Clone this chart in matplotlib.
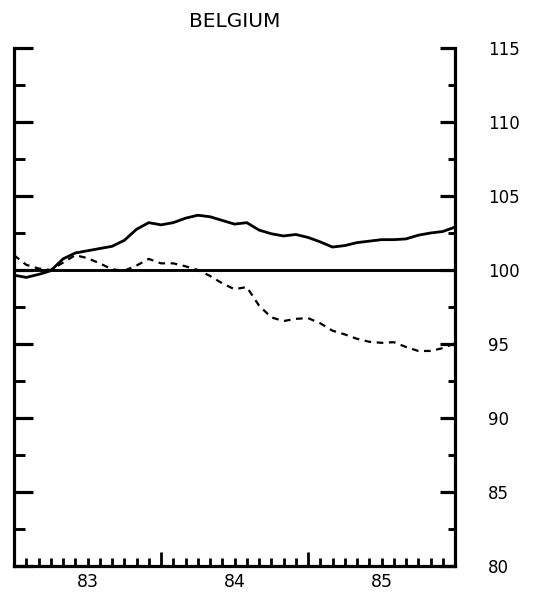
import numpy as np
import matplotlib.pyplot as plt

plt.rcParams['font.family'] = 'DejaVu Sans'

# Данные: помесячные значения, январь 1983 - январь 1986
title = "BELGIUM"
start_year = 1983
solid = [99.65, 99.5, 99.7, 99.95, 100.75, 101.15, 101.3, 101.45, 101.6, 102.0,
         102.75, 103.2, 103.05, 103.2, 103.5, 103.7, 103.6, 103.35, 103.1, 103.2,
         102.7, 102.45, 102.3, 102.4, 102.2, 101.9, 101.55, 101.65, 101.85, 101.95,
         102.05, 102.05, 102.1, 102.35, 102.5, 102.6, 102.9]
dashed = [101.0, 100.35, 100.1, 100.0, 100.5, 101.0, 100.8, 100.45, 100.05, 99.95,
          100.3, 100.75, 100.45, 100.45, 100.25, 100.0, 99.6, 99.1, 98.7, 98.85,
          97.6, 96.8, 96.55, 96.7, 96.75, 96.4, 95.9, 95.65, 95.35, 95.15,
          95.08, 95.12, 94.8, 94.53, 94.53, 94.72, 95.05]
base_level = 100
year_labels = ["83", "84", "85"]
y_ticks = [80, 85, 90, 95, 100, 105, 110, 115]

x = start_year + np.arange(len(solid)) / 12

fig = plt.figure(figsize=(5.44, 5.92), dpi=100)
ax = fig.add_axes([14/544, 1 - 566/592, (455 - 14)/544, (566 - 48)/592])

ax.plot(x, solid, color='k', lw=2.0)
ax.plot(x, dashed, color='k', lw=1.6, linestyle=(0, (3, 2.5)))
ax.axhline(base_level, color='k', lw=2.1)

ax.set_xlim(start_year, start_year + 3)
ax.set_ylim(80, 115)

for s in ['left', 'right', 'bottom']:
    ax.spines[s].set_linewidth(2.3)
ax.spines['top'].set_visible(False)

# вертикальная шкала: деления с двух сторон, подписи справа
ax.set_yticks(y_ticks)
ax.set_yticks(np.arange(82.5, 115, 5), minor=True)
ax.tick_params(axis='y', which='both', direction='in', left=True, right=True,
               labelleft=False, labelright=True)
ax.tick_params(axis='y', which='major', length=11, width=2.3, pad=24,
               labelsize=12)
ax.tick_params(axis='y', which='minor', length=5, width=2.1)
# слева деления длиннее, чем справа
for t in ax.yaxis.get_major_ticks():
    t.tick1line.set_markersize(14)
for t in ax.yaxis.get_minor_ticks():
    t.tick1line.set_markersize(8)

# нижняя шкала: деления по месяцам, подписи в середине года
months = np.arange(1, 36)
xt_labels = [''] * len(months)
for k, lab in enumerate(year_labels):
    xt_labels[6 + 12 * k - 1] = lab
ax.set_xticks(start_year + months / 12, xt_labels)
ax.tick_params(axis='x', which='major', direction='in', length=6, width=2.0,
               pad=5, labelsize=12.5)
for m, t in zip(months, ax.xaxis.get_major_ticks()):
    if m % 12 == 0:
        t.tick1line.set_markersize(10)

fig.text(0.432, 0.964, title, ha='center', va='center', fontsize=14.5)

plt.savefig('out.png', dpi=100)
